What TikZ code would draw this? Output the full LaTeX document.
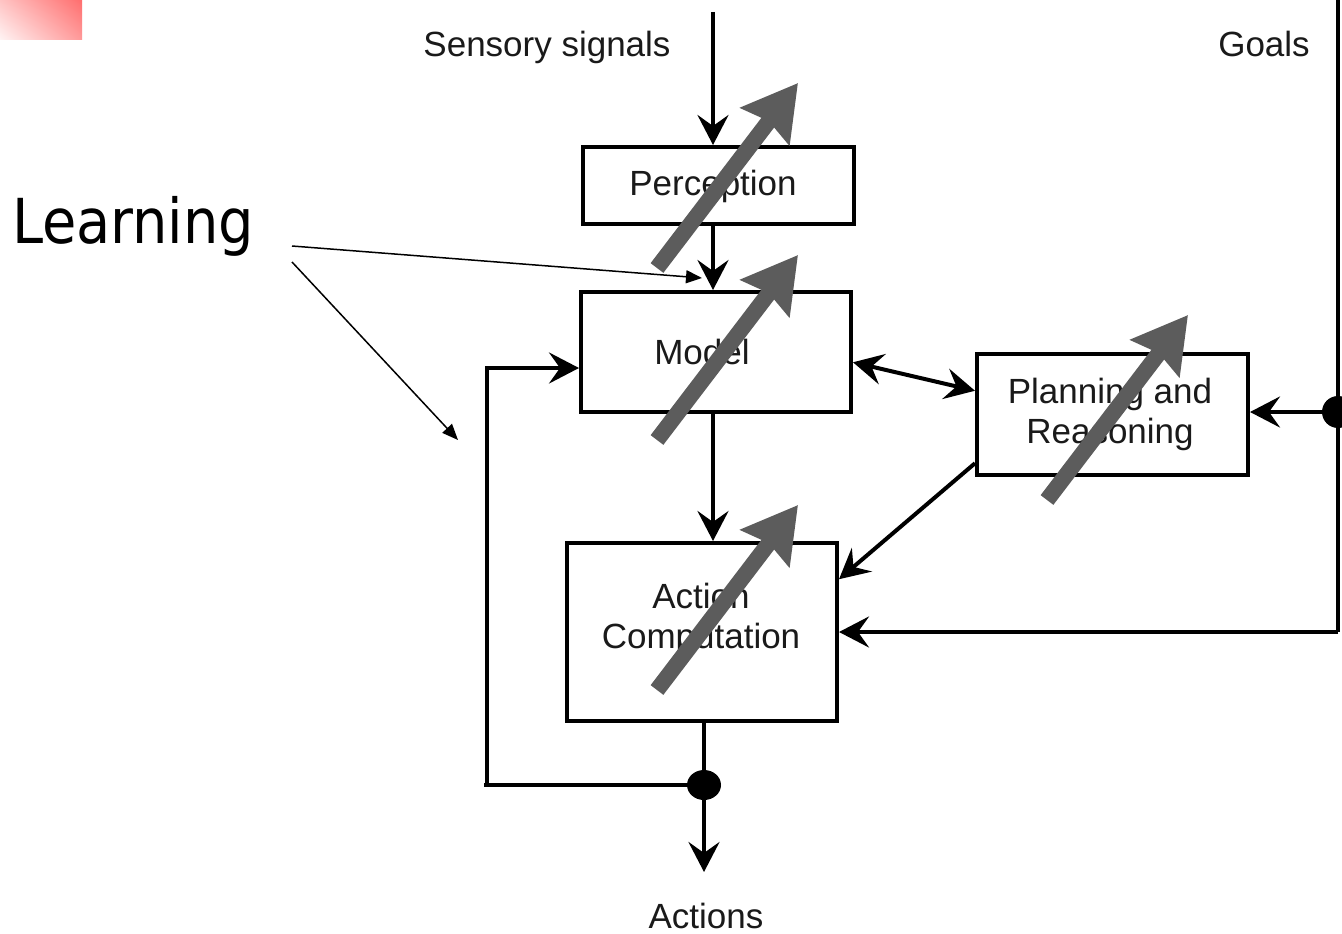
\documentclass[tikz,border=0pt]{standalone}
\usepackage{fontspec}
\setmainfont{Liberation Sans}
\newfontfamily\learnfont{DejaVu Sans Condensed}
\usetikzlibrary{arrows.meta,calc,shadings,shapes.geometric}
\definecolor{grayarrow}{HTML}{5C5C5C}
\definecolor{pinkA}{HTML}{FF6E6E}
\definecolor{pinkB}{HTML}{FFC4C4}
\definecolor{pinkC}{HTML}{FF9A9A}
\definecolor{pinkD}{HTML}{FFF4F4}
\definecolor{txt}{HTML}{1A1A1A}
\begin{document}
\begin{tikzpicture}[x=1pt,y=-1pt,
  box/.style={draw,line width=4pt,inner sep=0pt,rectangle},
  lbl/.style={font=\fontsize{35}{40}\selectfont,text=txt,inner sep=0pt,anchor=base,align=center},
  conn/.style={line width=4pt,-{Stealth[length=30pt,width=31pt,inset=11pt]}},
  plain/.style={line width=4pt},
  thin/.style={line width=1.5pt,-{Triangle[length=16pt,width=13pt]}},
  learnarrow/.style={line width=16pt,grayarrow,-{Stealth[length=54pt,width=60pt,inset=6pt]}},
  junction/.style={circle,fill=black,inner sep=0pt,minimum size=32pt}]
\useasboundingbox (0,0) rectangle (1342,934);
\fill[white] (0,0) rectangle (1342,934);
% pink corner
\shade[upper left=pinkB,upper right=pinkA,lower left=pinkD,lower right=pinkC] (0,0) rectangle (82,40);

% boxes
\node[box,minimum width=271pt,minimum height=77pt] (perception) at (718.5,185.5) {};
\node[box,minimum width=270pt,minimum height=120pt] (model) at (716,352) {};
\node[box,minimum width=271pt,minimum height=121pt] (planning) at (1112.5,414.5) {};
\node[box,minimum width=270pt,minimum height=178pt] (action) at (702,632) {};

% labels
\node[lbl] (tsens) at (547,57) {Sensory signals};
\node[lbl] (tgoals) at (1264,57) {Goals};
\node[lbl] (tperc) at (713,195) {Perception};
\node[lbl] (tmodel) at (702,364) {Model};
\node[lbl] (tplan) at (1110,443) {Planning and\\Reasoning};
\node[lbl] (tact) at (701,648) {Action\\Computation};
\node[lbl] (tactions) at (706,928) {Actions};
\node[font=\learnfont\fontsize{62}{70}\selectfont,inner sep=0pt,anchor=base west] (tlearn) at (12,243) {Learning};

% coordinates
\coordinate (senstop) at (713,12);
\coordinate (jdot) at (704,785);
\coordinate (actend) at (704,872);
\coordinate (loopcorner) at (484,785);
\coordinate (loopin) at (487,368);
\coordinate (goalstop) at (1338,0);
\coordinate (gdotc) at (1338,412);
\coordinate (gcorner) at (1338,632);

% connectors
\draw[conn] (senstop) -- (perception.north -| senstop);
\draw[conn] (perception.south -| senstop) -- (model.north -| senstop);
\draw[conn] (model.south -| senstop) -- (action.north -| senstop);
\draw[plain] (action.south -| jdot) -- (jdot);
\draw[conn] (jdot) -- (actend);
\draw[plain] (jdot) -- (loopcorner);
\draw[conn] (loopcorner -| loopin) -- (loopin) -- (loopin -| model.west);
\draw[plain] (goalstop) -- (gcorner);
\draw[conn] (gcorner) -- (gcorner -| action.east);
\draw[conn] (gdotc) -- (gdotc -| planning.east);
\draw[line width=4pt,{Stealth[length=30pt,width=31pt,inset=11pt]}-{Stealth[length=30pt,width=31pt,inset=11pt]}]
  ($(model.north east)!0.583!(model.south east)$) -- ($(planning.north west)!0.31!(planning.south west)$);
\draw[conn] ($(planning.north west)!0.89!(planning.south west)$) -- ($(action.north east)!0.21!(action.south east)$);
\node[ellipse,fill=black,inner sep=0pt,minimum width=34pt,minimum height=30pt] (jd) at (jdot) {};
\node[junction] (gd) at (gdotc) {};

% Learning pointers
\coordinate (lp1) at (292,246);
\coordinate (lp2) at (292,262);
\coordinate (lt1) at (702,278);
\coordinate (lt2) at (458,440);
\draw[thin] (lp1) -- (lt1);
\draw[thin] (lp2) -- (lt2);

% gray learning arrows
\coordinate (g1s) at (657,268); \coordinate (g1e) at (798,83);
\coordinate (g2s) at (657,440); \coordinate (g2e) at (798,255);
\coordinate (g3s) at (1047,500); \coordinate (g3e) at (1188,315);
\coordinate (g4s) at (657,690); \coordinate (g4e) at (798,505);
\draw[learnarrow] (g1s) -- (g1e);
\draw[learnarrow] (g2s) -- (g2e);
\draw[learnarrow] (g3s) -- (g3e);
\draw[learnarrow] (g4s) -- (g4e);
\end{tikzpicture}
\end{document}
